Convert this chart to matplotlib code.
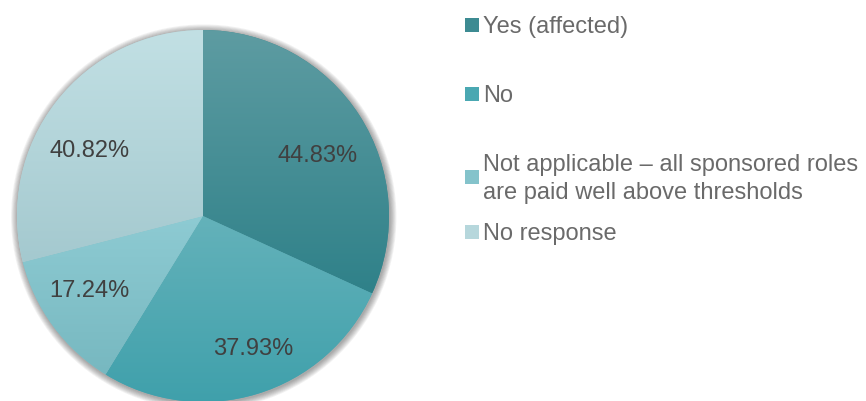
import numpy as np
import matplotlib
matplotlib.use("Agg")
import matplotlib.pyplot as plt
import matplotlib.transforms as mtransforms
from matplotlib.colors import LinearSegmentedColormap
from matplotlib.patches import Rectangle, Circle

plt.rcParams['font.family'] = ['Liberation Sans', 'DejaVu Sans']

categories = ["Yes (affected)", "No",
              "Not applicable \u2013 all sponsored roles\nare paid well above thresholds",
              "No response"]
values = [44.83, 37.93, 17.24, 40.82]
value_labels = ["44.83%", "37.93%", "17.24%", "40.82%"]

# top / bottom shades of the vertical gradient on each slice
shade_top = ["#5e9ca2", "#64b2ba", "#8ecbd3", "#c2e0e4"]
shade_bottom = ["#2f8189", "#3fa0ab", "#77b8c0", "#a4c9cf"]
swatch = ["#3d8b92", "#4aa8b2", "#84c3cb", "#b6d7dc"]

# label placement tweaks (degrees along the arc, fraction of radius)
label_shift = [-4, 4, -4, 7]
label_radius = [0.70, 0.75, 0.725, 0.71]

W, H = 866, 401
fig = plt.figure(figsize=(W / 100, H / 100), dpi=100)
fig.patch.set_facecolor("white")

cx, cy, R = 203, 216, 186
pad = 1.06
ax = fig.add_axes([(cx - R * pad) / W, (H - cy - R * pad) / H,
                   2 * R * pad / W, 2 * R * pad / H])
ax.set_aspect("equal")
ax.axis("off")

# soft shadow around the pie
for i in range(8):
    ax.add_patch(Circle((0.004, -0.006), 1.0 + 0.0045 * (i + 1), color="#202020",
                        alpha=0.055, lw=0, zorder=0))

wedges, texts = ax.pie(values, startangle=90, counterclock=False, radius=1,
                       colors=swatch, wedgeprops=dict(linewidth=0))

for w, c0, c1 in zip(wedges, shade_top, shade_bottom):
    w.set_zorder(1)
    verts = w.get_path().vertices
    ymin, ymax = verts[:, 1].min(), verts[:, 1].max()
    cmap = LinearSegmentedColormap.from_list("g", [c1, c0])
    grad = np.linspace(0, 1, 256).reshape(-1, 1)
    im = ax.imshow(grad, cmap=cmap, origin="lower", aspect="auto",
                   extent=(-1.02, 1.02, ymin, ymax), zorder=2,
                   interpolation="bilinear")
    im.set_clip_path(w)

ax.set_xlim(-pad, pad)
ax.set_ylim(-pad, pad)

# value labels inside each slice
lab_tr = mtransforms.offset_copy(ax.transData, fig=fig, x=0, y=-3, units="dots")
for w, lab, dth, r in zip(wedges, value_labels, label_shift, label_radius):
    mid = np.deg2rad((w.theta1 + w.theta2) / 2 + dth)
    ax.text(r * np.cos(mid), r * np.sin(mid), lab, ha="center", va="center",
            fontsize=17, color="#404040", zorder=5, transform=lab_tr)

# legend
legend_y = [25, 94, 177, 232]
for cat, col, y in zip(categories, swatch, legend_y):
    fig.add_artist(Rectangle((465 / W, 1 - (y + 7) / H), 14 / W, 14 / H,
                             transform=fig.transFigure, color=col, lw=0))
    fig.text(483 / W, 1 - (y + 2) / H, cat, ha="left", va="center", fontsize=17,
             color="#6a6a6a", linespacing=1.4)

fig.savefig("out.png", dpi=100, facecolor="white")
